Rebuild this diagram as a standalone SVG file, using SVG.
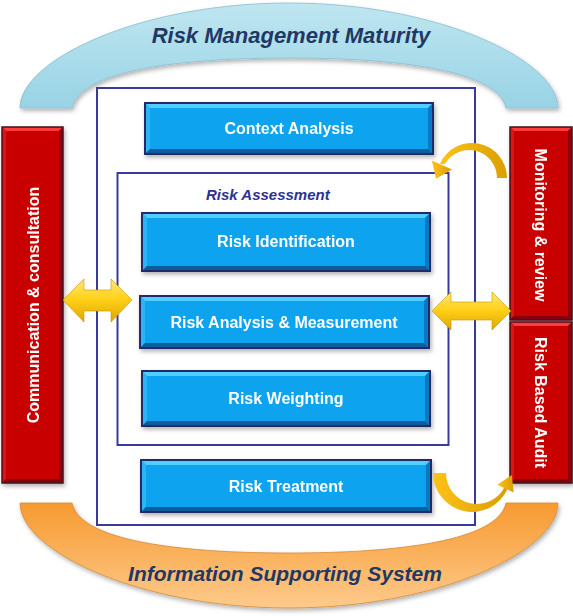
<svg xmlns="http://www.w3.org/2000/svg" width="573" height="616" viewBox="0 0 573 616">
<style>
.bt{font-family:"Liberation Sans",Arial,sans-serif;font-weight:bold;font-size:16px;fill:#ffffff;text-anchor:middle}
.band{font-family:"Liberation Sans",Arial,sans-serif;font-weight:bold;font-style:italic;fill:#1f3864;text-anchor:middle}
.ra{font-family:"Liberation Sans",Arial,sans-serif;font-weight:bold;font-style:italic;font-size:15px;fill:#2e3192}
.frame{fill:none;stroke:#3a3a9c;stroke-width:2}
.bbase{fill:#07a3ef}
.btop{fill:#52cdff}
.bleft{fill:#2bb6f6}
.bright{fill:#0a78c2}
.bbot{fill:#0b5c9c}
.bedge{fill:none;stroke:#232b68;stroke-width:2}
.rbase{fill:#c90000}
.rtop{fill:#ff3a3a}
.rleft{fill:#d81212}
.rright{fill:#8c0010}
.rbot{fill:#820010}
.redge{fill:none;stroke:#4a0d1a;stroke-width:1.5}
.dbl{fill:url(#gold);stroke:#c99400;stroke-width:0.6}
.crv{fill:url(#gold2)}
</style>
<defs>
<linearGradient id="blueBand" x1="0" y1="0" x2="0" y2="1">
<stop offset="0" stop-color="#bfe6f1"/>
<stop offset="1" stop-color="#98d3e5"/>
</linearGradient>
<linearGradient id="orBand" x1="0" y1="0" x2="0" y2="1">
<stop offset="0" stop-color="#f79a30"/>
<stop offset="1" stop-color="#fdca8c"/>
</linearGradient>
<linearGradient id="gold" x1="0" y1="0" x2="0" y2="1">
<stop offset="0" stop-color="#ffe67a"/>
<stop offset="0.45" stop-color="#ffd21a"/>
<stop offset="1" stop-color="#e2a600"/>
</linearGradient>
<linearGradient id="gold2" x1="0" y1="0" x2="1" y2="0">
<stop offset="0" stop-color="#ffc21a"/>
<stop offset="1" stop-color="#d99f00"/>
</linearGradient>
<filter id="sh" x="-10%" y="-10%" width="130%" height="130%">
<feDropShadow dx="1.5" dy="2.5" stdDeviation="2" flood-color="#000" flood-opacity="0.3"/>
</filter>
</defs>

<g id="maturity">
<path d="M20,108 C20,60 140,3 289,3 C438,3 558,60 558,108 L506,108 C498,70 398,58 289,58 C180,58 80,70 72,108 Z" fill="url(#blueBand)" stroke="#86bfd0" stroke-width="0.8" filter="url(#sh)"/>
<text class="band" x="291" y="43" font-size="22">Risk Management Maturity</text>
</g>

<g id="information-system">
<path d="M20,503 C20,551 140,608 289,608 C438,608 558,551 558,503 L506,503 C498,541 398,553 289,553 C180,553 80,541 72,503 Z" fill="url(#orBand)" stroke="#d48a35" stroke-width="0.8" filter="url(#sh)"/>
<text class="band" x="285" y="581" font-size="21">Information Supporting System</text>
</g>

<g id="process-frame">
<rect class="frame" x="97" y="88" width="378" height="437"/>
</g>

<g id="risk-assessment">
<rect class="frame" x="117.5" y="173" width="331" height="272"/>
<text class="ra" x="206" y="200">Risk Assessment</text>
</g>

<g id="context-analysis" filter="url(#sh)">
<rect class="bbase" x="145" y="103" width="288" height="51"/>
<polygon class="btop" points="145,103 433,103 428,108 150,108"/>
<polygon class="bleft" points="145,103 150,108 150,149 145,154"/>
<polygon class="bright" points="433,103 433,154 428,149 428,108"/>
<polygon class="bbot" points="145,154 433,154 428,149 150,149"/>
<rect class="bedge" x="145" y="103" width="288" height="51"/>
<text class="bt" x="289" y="134">Context Analysis</text>
</g>

<g id="risk-identification" filter="url(#sh)">
<rect class="bbase" x="142" y="213" width="288" height="58"/>
<polygon class="btop" points="142,213 430,213 425,218 147,218"/>
<polygon class="bleft" points="142,213 147,218 147,266 142,271"/>
<polygon class="bright" points="430,213 430,271 425,266 425,218"/>
<polygon class="bbot" points="142,271 430,271 425,266 147,266"/>
<rect class="bedge" x="142" y="213" width="288" height="58"/>
<text class="bt" x="286" y="247">Risk Identification</text>
</g>

<g id="risk-analysis" filter="url(#sh)">
<rect class="bbase" x="140" y="296" width="289" height="52"/>
<polygon class="btop" points="140,296 429,296 424,301 145,301"/>
<polygon class="bleft" points="140,296 145,301 145,343 140,348"/>
<polygon class="bright" points="429,296 429,348 424,343 424,301"/>
<polygon class="bbot" points="140,348 429,348 424,343 145,343"/>
<rect class="bedge" x="140" y="296" width="289" height="52"/>
<text class="bt" x="284" y="328">Risk Analysis &amp; Measurement</text>
</g>

<g id="risk-weighting" filter="url(#sh)">
<rect class="bbase" x="142" y="371" width="288" height="55"/>
<polygon class="btop" points="142,371 430,371 425,376 147,376"/>
<polygon class="bleft" points="142,371 147,376 147,421 142,426"/>
<polygon class="bright" points="430,371 430,426 425,421 425,376"/>
<polygon class="bbot" points="142,426 430,426 425,421 147,421"/>
<rect class="bedge" x="142" y="371" width="288" height="55"/>
<text class="bt" x="286" y="404">Risk Weighting</text>
</g>

<g id="risk-treatment" filter="url(#sh)">
<rect class="bbase" x="141" y="460" width="290" height="52"/>
<polygon class="btop" points="141,460 431,460 426,465 146,465"/>
<polygon class="bleft" points="141,460 146,465 146,507 141,512"/>
<polygon class="bright" points="431,460 431,512 426,507 426,465"/>
<polygon class="bbot" points="141,512 431,512 426,507 146,507"/>
<rect class="bedge" x="141" y="460" width="290" height="52"/>
<text class="bt" x="286" y="492">Risk Treatment</text>
</g>

<g id="communication" filter="url(#sh)">
<rect class="rbase" x="2" y="127" width="61" height="356"/>
<polygon class="rtop" points="2,127 63,127 59,131 6,131"/>
<polygon class="rleft" points="2,127 6,131 6,479 2,483"/>
<polygon class="rright" points="63,127 63,483 59,479 59,131"/>
<polygon class="rbot" points="2,483 63,483 59,479 6,479"/>
<rect class="redge" x="2" y="127" width="61" height="356"/>
<text class="bt" transform="translate(39,305) rotate(-90)">Communication &amp; consultation</text>
</g>

<g id="monitoring" filter="url(#sh)">
<rect class="rbase" x="510" y="127" width="62" height="193"/>
<polygon class="rtop" points="510,127 572,127 568,131 514,131"/>
<polygon class="rleft" points="510,127 514,131 514,316 510,320"/>
<polygon class="rright" points="572,127 572,320 568,316 568,131"/>
<polygon class="rbot" points="510,320 572,320 568,316 514,316"/>
<rect class="redge" x="510" y="127" width="62" height="193"/>
<text class="bt" transform="translate(535,225) rotate(90)">Monitoring &amp; review</text>
</g>

<g id="audit" filter="url(#sh)">
<rect class="rbase" x="510" y="322" width="62" height="161"/>
<polygon class="rtop" points="510,322 572,322 568,326 514,326"/>
<polygon class="rleft" points="510,322 514,326 514,479 510,483"/>
<polygon class="rright" points="572,322 572,483 568,479 568,326"/>
<polygon class="rbot" points="510,483 572,483 568,479 514,479"/>
<rect class="redge" x="510" y="322" width="62" height="161"/>
<text class="bt" transform="translate(535,402.5) rotate(90)">Risk Based Audit</text>
</g>

<g id="connectors">
<polygon class="dbl" points="63,300 84,279 84,290 111,290 111,279 132,300 111,322 111,311 84,311 84,322"/>
<polygon class="dbl" points="432,311 451,292 451,302 492,302 492,292 511,311 492,330 492,320 451,320 451,330"/>
<path class="crv" d="M507,178 A35,35 0 0 0 439.9,164 L444.8,164 A28,28 0 0 1 497,178 Z"/>
<polygon class="crv" points="452,169.4 431.9,160.6 436,178.7"/>
<path class="crv" d="M433,473 A39,39 0 0 0 507.3,489.5 L505.1,486.1 A31,31 0 0 1 446,473 Z"/>
<polygon class="crv" points="513.7,492.4 497.3,484.8 511.8,475"/>
</g>
</svg>
